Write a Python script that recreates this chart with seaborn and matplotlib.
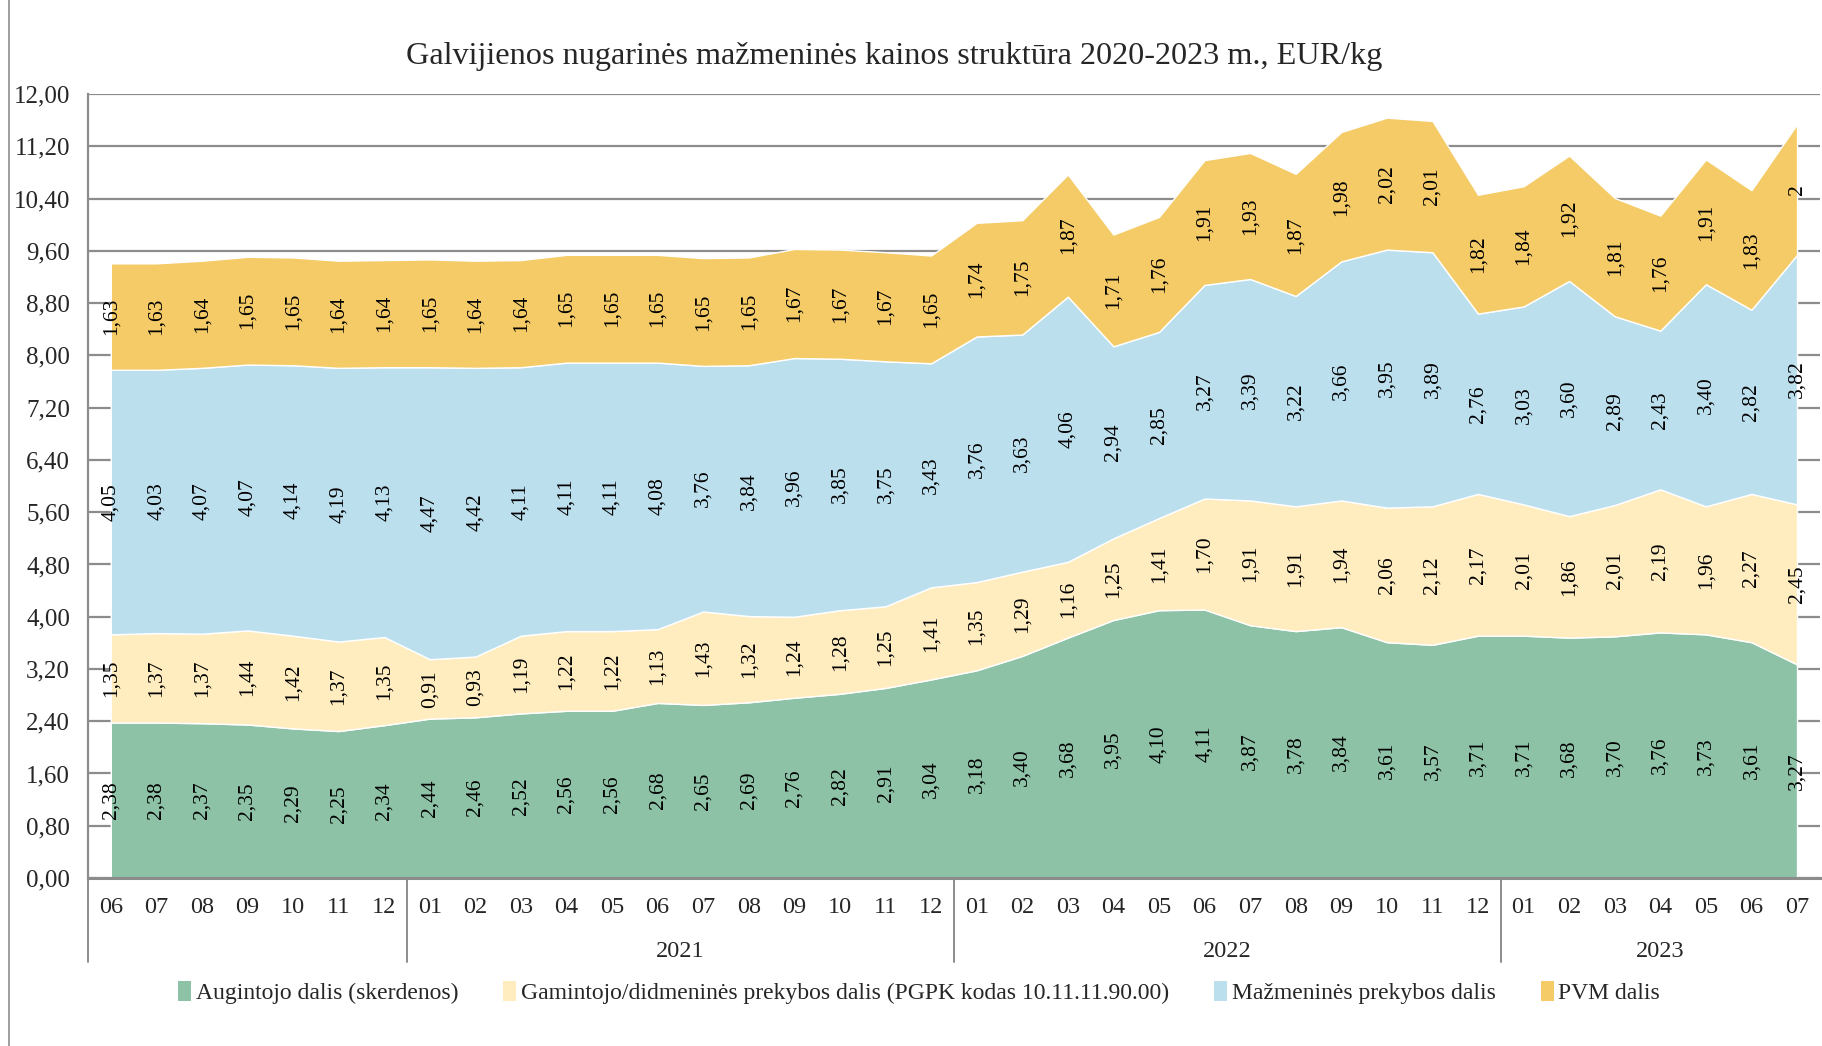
import numpy as np
import matplotlib
matplotlib.use("Agg")
import matplotlib.pyplot as plt
import seaborn as sns
from matplotlib.lines import Line2D
from matplotlib.patches import Patch
from matplotlib.ticker import FuncFormatter

# -------------------------
# Data
# -------------------------
months = ["06", "07", "08", "09", "10", "11", "12",
          "01", "02", "03", "04", "05", "06", "07", "08", "09", "10", "11", "12",
          "01", "02", "03", "04", "05", "06", "07", "08", "09", "10", "11", "12",
          "01", "02", "03", "04", "05", "06", "07"]
years = ["2021", "2022", "2023"]
year_centers = [12.5, 24.5, 34]
year_breaks = [-0.5, 6.5, 18.5, 30.5]

augintojo = [2.38, 2.38, 2.37, 2.35, 2.29, 2.25, 2.34,
             2.44, 2.46, 2.52, 2.56, 2.56, 2.68, 2.65, 2.69, 2.76, 2.82, 2.91, 3.04,
             3.18, 3.40, 3.68, 3.95, 4.10, 4.11, 3.87, 3.78, 3.84, 3.61, 3.57, 3.71,
             3.71, 3.68, 3.70, 3.76, 3.73, 3.61, 3.27]
gamintojo = [1.35, 1.37, 1.37, 1.44, 1.42, 1.37, 1.35,
             0.91, 0.93, 1.19, 1.22, 1.22, 1.13, 1.43, 1.32, 1.24, 1.28, 1.25, 1.41,
             1.35, 1.29, 1.16, 1.25, 1.41, 1.70, 1.91, 1.91, 1.94, 2.06, 2.12, 2.17,
             2.01, 1.86, 2.01, 2.19, 1.96, 2.27, 2.45]
mazmenine = [4.05, 4.03, 4.07, 4.07, 4.14, 4.19, 4.13,
             4.47, 4.42, 4.11, 4.11, 4.11, 4.08, 3.76, 3.84, 3.96, 3.85, 3.75, 3.43,
             3.76, 3.63, 4.06, 2.94, 2.85, 3.27, 3.39, 3.22, 3.66, 3.95, 3.89, 2.76,
             3.03, 3.60, 2.89, 2.43, 3.40, 2.82, 3.82]
pvm = [1.63, 1.63, 1.64, 1.65, 1.65, 1.64, 1.64,
       1.65, 1.64, 1.64, 1.65, 1.65, 1.65, 1.65, 1.65, 1.67, 1.67, 1.67, 1.65,
       1.74, 1.75, 1.87, 1.71, 1.76, 1.91, 1.93, 1.87, 1.98, 2.02, 2.01, 1.82,
       1.84, 1.92, 1.81, 1.76, 1.91, 1.83, 2.0]

series_names = ["Augintojo dalis (skerdenos)",
                "Gamintojo/didmeninės prekybos dalis (PGPK kodas 10.11.11.90.00)",
                "Mažmeninės prekybos dalis",
                "PVM dalis"]
colors = ["#8DC2A7", "#FFEDC0", "#BCDFEE", "#F4CB66"]

# -------------------------
# Style
# -------------------------
sns.set_theme(style="white")
plt.rcParams["font.family"] = ["Liberation Serif", "DejaVu Serif"]

fig = plt.figure(figsize=(18.22, 10.46), dpi=100)
ax = fig.add_axes([0.0483, 0.1606, 0.9505, 0.7494])

x = np.arange(len(months))
series = [augintojo, gamintojo, mazmenine, pvm]
ax.stackplot(x, *series, colors=colors, zorder=2)

# gridlines behind the areas
ax.set_ylim(0, 12)
ax.set_xlim(-0.5, len(months) - 0.5)
ax.set_yticks(np.arange(0, 12.01, 0.8))
ax.yaxis.set_major_formatter(FuncFormatter(lambda v, p: f"{v:.2f}".replace(".", ",")))
ax.grid(axis="y", color="#8c8c8c", linewidth=1.6, zorder=0)
ax.set_axisbelow(True)
ax.tick_params(axis="y", labelsize=18, length=0, pad=13)

ax.set_xticks(x)
ax.set_xticklabels(months)
ax.tick_params(axis="x", labelsize=17.5, length=0, pad=14)

for s in ["top", "right"]:
    ax.spines[s].set_visible(False)
ax.spines["left"].set_color("#8c8c8c")
ax.spines["left"].set_linewidth(1.6)
ax.spines["bottom"].set_color("#8c8c8c")
ax.spines["bottom"].set_linewidth(2.2)


def fmt(v):
    if float(v).is_integer():
        return str(int(v))
    return f"{v:.2f}".replace(".", ",")


# data labels at segment centers
bottom = np.zeros(len(months))
for vals in series:
    vals = np.array(vals)
    for i, v in enumerate(vals):
        ax.text(i, bottom[i] + v / 2, fmt(v), rotation=90, ha="center", va="center",
                fontsize=15.5, color="black", zorder=3)
    bottom += vals

# year separators and labels
trans = ax.get_xaxis_transform()
for b in year_breaks:
    ax.plot([b, b], [0, -0.107], transform=trans, color="#8c8c8c", linewidth=1.4, clip_on=False)
for yr, c in zip(years, year_centers):
    ax.text(c, -0.094, yr, transform=trans, ha="center", va="center", fontsize=17.5)

# title
fig.text(0.491, 0.946, "Galvijienos nugarinės mažmeninės kainos struktūra 2020-2023 m., EUR/kg",
         ha="center", va="center", fontsize=23.2)

# legend
handles = [Patch(facecolor=c, edgecolor="none") for c in colors]
fig.legend(handles, series_names, loc="center", bbox_to_anchor=(0.5045, 0.051), ncol=4,
           frameon=False, fontsize=17, handlelength=0.55, handleheight=0.9,
           handletextpad=0.2, columnspacing=1.9)

# outer chart border
fig.add_artist(Line2D([0.005, 0.005], [0, 1], color="#8c8c8c", linewidth=1.2))

fig.savefig("out.png", dpi=100)
